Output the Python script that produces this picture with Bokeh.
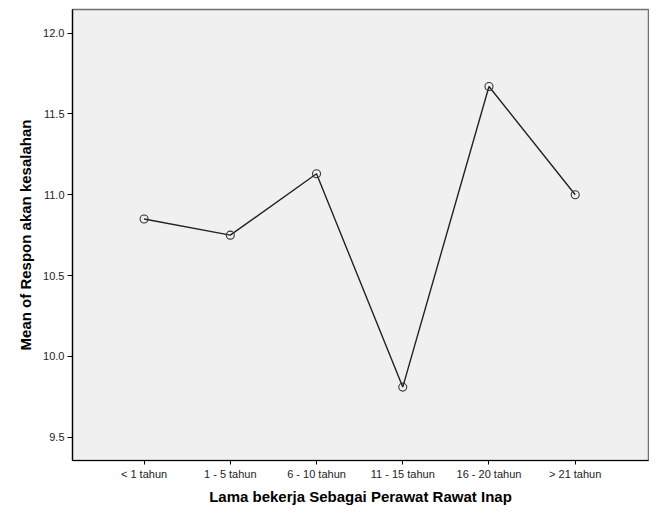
from bokeh.plotting import figure
from bokeh.models import Range1d, FixedTicker, ColumnDataSource, PrintfTickFormatter
from bokeh.embed import file_html
from bokeh.resources import INLINE

categories = ["< 1 tahun", "1 - 5 tahun", "6 - 10 tahun", "11 - 15 tahun", "16 - 20 tahun", "> 21 tahun"]
mean_respon = [10.85, 10.75, 11.13, 9.81, 11.67, 11.00]
y_ticks = [9.5, 10.0, 10.5, 11.0, 11.5, 12.0]

x_pos = list(range(len(categories)))
src = ColumnDataSource(dict(x=x_pos, y=mean_respon, cat=categories))

p = figure(width=649, height=507, output_backend="svg", toolbar_location=None,
           x_range=Range1d(-0.83, len(categories) - 1 + 0.85),
           y_range=Range1d(9.356, 12.146),
           min_border_left=72, min_border_top=9, min_border_right=1, min_border_bottom=44)

p.background_fill_color = "#F0F0F0"
p.border_fill_color = "white"
p.outline_line_color = "#707070"
p.outline_line_width = 1.5
p.grid.visible = False

p.line("x", "y", source=src, line_color="#222222", line_width=1.4)
p.scatter("x", "y", source=src, marker="circle", size=8, fill_color=None,
          line_color="#333333", line_width=1.1)

font = "Liberation Sans"
p.xaxis.ticker = FixedTicker(ticks=x_pos)
p.xaxis.major_label_overrides = {i: c for i, c in enumerate(categories)}
p.yaxis.ticker = FixedTicker(ticks=y_ticks)
p.yaxis.formatter = PrintfTickFormatter(format="%.1f")

for ax in (p.xaxis[0], p.yaxis[0]):
    ax.axis_line_color = "black"
    ax.axis_line_width = 1.2
    ax.major_tick_line_color = "black"
    ax.major_tick_line_width = 1
    ax.major_tick_out = 5
    ax.major_tick_in = 0
    ax.minor_tick_line_color = None
    ax.major_label_text_font = font
    ax.major_label_text_font_size = "11px"
    ax.major_label_text_color = "#222222"
    ax.axis_label_text_font = font
    ax.axis_label_text_font_style = "bold"
    ax.axis_label_text_font_size = "15px"
    ax.axis_label_text_color = "black"

p.yaxis.major_label_standoff = 3
p.yaxis.axis_label = "Mean of Respon akan kesalahan"
p.yaxis.axis_label_standoff = 6
p.xaxis.major_tick_out = 4
p.xaxis.major_label_standoff = 3
p.xaxis.axis_label = "Lama bekerja Sebagai Perawat Rawat Inap"
p.xaxis.axis_label_standoff = 5

open("out.html", "w").write(file_html(p, INLINE))
